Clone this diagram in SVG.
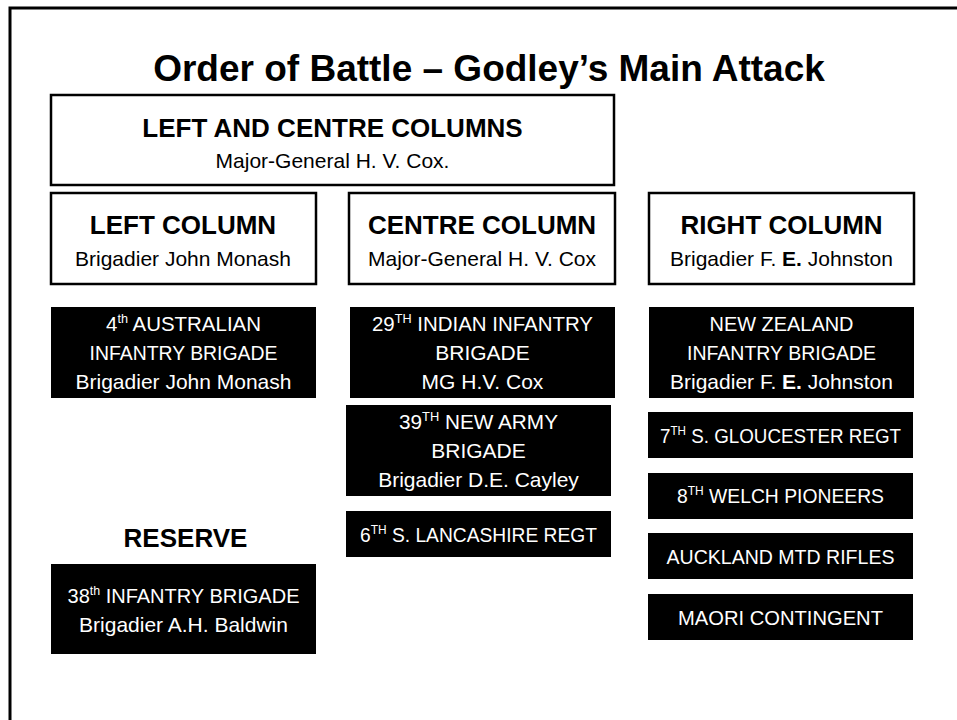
<svg xmlns="http://www.w3.org/2000/svg" width="957" height="720" viewBox="0 0 957 720">
<style>
text{font-family:"Liberation Sans",Arial,sans-serif;text-anchor:middle}
.title{font-size:37px;font-weight:bold;fill:#000}
.hdr{font-size:26px;font-weight:bold;fill:#000}
.sub{font-size:21px;fill:#000}
.wbox{fill:#fff;stroke:#000;stroke-width:2.5}
.bbox{fill:#000}
.wt{font-size:21px;fill:#fff}
.sup{font-size:13px}
.b{font-weight:bold}
</style>
<rect x="0" y="0" width="957" height="720" fill="#fff"/>
<rect x="10" y="8" width="960" height="730" fill="none" stroke="#000" stroke-width="3"/>
<text class="title" x="489" y="81">Order of Battle – Godley’s Main Attack</text>
<g id="connectors"></g>
<g id="left-centre-columns">
<rect class="wbox" x="51" y="95" width="563" height="90"/>
<text class="hdr" x="332.5" y="137">LEFT AND CENTRE COLUMNS</text>
<text class="sub" x="332.5" y="168">Major-General H. V. Cox.</text>
</g>
<g id="left-column">
<rect class="wbox" x="51" y="193" width="265" height="91"/>
<text class="hdr" x="183" y="234">LEFT COLUMN</text>
<text class="sub" x="183" y="266">Brigadier John Monash</text>
</g>
<g id="centre-column">
<rect class="wbox" x="349" y="193" width="266" height="91"/>
<text class="hdr" x="482" y="234">CENTRE COLUMN</text>
<text class="sub" x="482" y="266">Major-General H. V. Cox</text>
</g>
<g id="right-column">
<rect class="wbox" x="649" y="193" width="265" height="91"/>
<text class="hdr" x="781.5" y="234">RIGHT COLUMN</text>
<text class="sub" x="781.5" y="266">Brigadier F. <tspan class="b">E.</tspan> Johnston</text>
</g>
<g id="aus-4th-brigade">
<rect class="bbox" x="51" y="307" width="265" height="91"/>
<text class="wt" x="183.5" y="331" textLength="155" lengthAdjust="spacingAndGlyphs">4<tspan class="sup" dy="-8">th</tspan><tspan dy="8"> AUSTRALIAN</tspan></text>
<text class="wt" x="183.5" y="360" textLength="188" lengthAdjust="spacingAndGlyphs">INFANTRY BRIGADE</text>
<text class="wt" x="183.5" y="389">Brigadier John Monash</text>
</g>
<g id="indian-29th-brigade">
<rect class="bbox" x="350" y="307" width="265" height="91"/>
<text class="wt" x="482.5" y="331" textLength="221" lengthAdjust="spacingAndGlyphs">29<tspan class="sup" dy="-8">TH</tspan><tspan dy="8"> INDIAN INFANTRY</tspan></text>
<text class="wt" x="482.5" y="360">BRIGADE</text>
<text class="wt" x="482.5" y="389">MG H.V. Cox</text>
</g>
<g id="new-army-39th-brigade">
<rect class="bbox" x="346" y="405" width="265" height="91"/>
<text class="wt" x="478.5" y="429" textLength="159" lengthAdjust="spacingAndGlyphs">39<tspan class="sup" dy="-8">TH</tspan><tspan dy="8"> NEW ARMY</tspan></text>
<text class="wt" x="478.5" y="458">BRIGADE</text>
<text class="wt" x="478.5" y="487">Brigadier D.E. Cayley</text>
</g>
<g id="s-lancashire-6th">
<rect class="bbox" x="346" y="511" width="265" height="46"/>
<text class="wt" x="478.5" y="542" textLength="237" lengthAdjust="spacingAndGlyphs">6<tspan class="sup" dy="-8">TH</tspan><tspan dy="8"> S. LANCASHIRE REGT</tspan></text>
</g>
<g id="reserve-label">
<text class="hdr" x="185.5" y="547">RESERVE</text>
</g>
<g id="infantry-38th-brigade">
<rect class="bbox" x="51" y="564" width="265" height="90"/>
<text class="wt" x="183.5" y="603" textLength="232" lengthAdjust="spacingAndGlyphs">38<tspan class="sup" dy="-8">th</tspan><tspan dy="8"> INFANTRY BRIGADE</tspan></text>
<text class="wt" x="183.5" y="632">Brigadier A.H. Baldwin</text>
</g>
<g id="nz-infantry-brigade">
<rect class="bbox" x="649" y="307" width="265" height="91"/>
<text class="wt" x="781.5" y="331" textLength="144" lengthAdjust="spacingAndGlyphs">NEW ZEALAND</text>
<text class="wt" x="781.5" y="360" textLength="189" lengthAdjust="spacingAndGlyphs">INFANTRY BRIGADE</text>
<text class="wt" x="781.5" y="389">Brigadier F. <tspan class="b">E.</tspan> Johnston</text>
</g>
<g id="s-gloucester-7th">
<rect class="bbox" x="648" y="412" width="265" height="46"/>
<text class="wt" x="780.5" y="443" textLength="241" lengthAdjust="spacingAndGlyphs">7<tspan class="sup" dy="-8">TH</tspan><tspan dy="8"> S. GLOUCESTER REGT</tspan></text>
</g>
<g id="welch-pioneers-8th">
<rect class="bbox" x="648" y="473" width="265" height="46"/>
<text class="wt" x="780.5" y="503" textLength="207" lengthAdjust="spacingAndGlyphs">8<tspan class="sup" dy="-8">TH</tspan><tspan dy="8"> WELCH PIONEERS</tspan></text>
</g>
<g id="auckland-mtd-rifles">
<rect class="bbox" x="648" y="533" width="265" height="46"/>
<text class="wt" x="780.5" y="564" textLength="228" lengthAdjust="spacingAndGlyphs">AUCKLAND MTD RIFLES</text>
</g>
<g id="maori-contingent">
<rect class="bbox" x="648" y="594" width="265" height="46"/>
<text class="wt" x="780.5" y="625" textLength="205" lengthAdjust="spacingAndGlyphs">MAORI CONTINGENT</text>
</g>
</svg>
